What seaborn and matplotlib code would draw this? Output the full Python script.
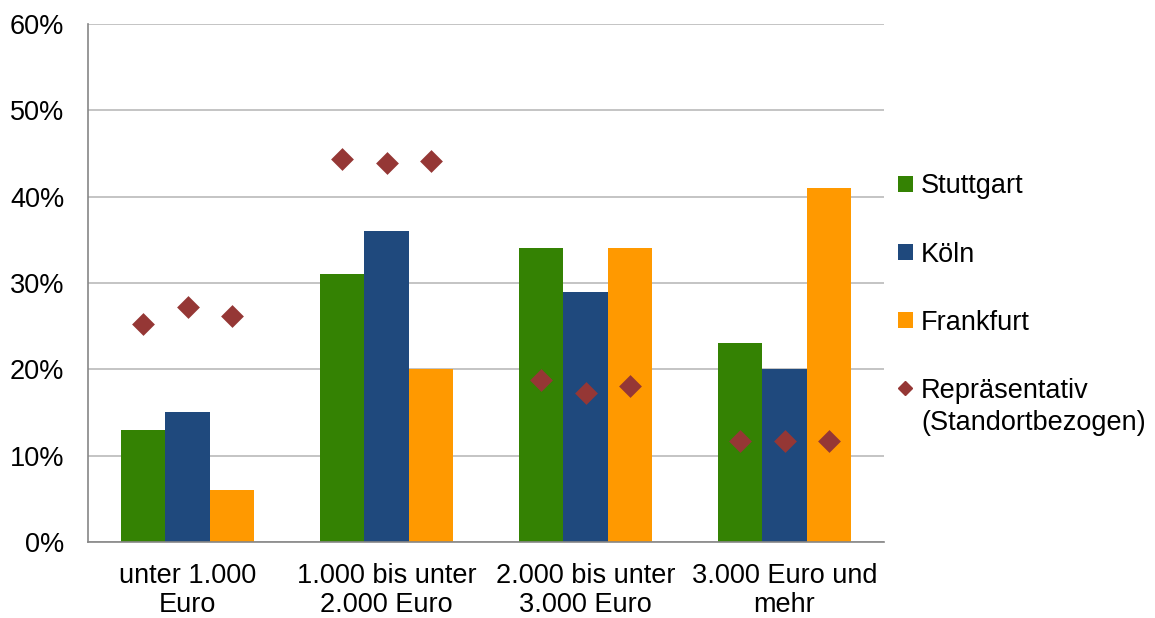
import numpy as np
import pandas as pd
import matplotlib
matplotlib.use("Agg")
import matplotlib.pyplot as plt
import seaborn as sns
from matplotlib.patches import Patch
from matplotlib.lines import Line2D
from matplotlib.legend_handler import HandlerLine2D
from matplotlib.ticker import FixedLocator, PercentFormatter

# data (percent)
categories = ["unter 1.000\nEuro", "1.000 bis unter\n2.000 Euro",
              "2.000 bis unter\n3.000 Euro", "3.000 Euro und\nmehr"]
cities = ["Stuttgart", "Köln", "Frankfurt"]
stuttgart = [13, 31, 34, 23]
koeln = [15, 36, 29, 20]
frankfurt = [6, 20, 34, 41]
# representative values, one per city and income class
rep_stuttgart = [25.2, 44.4, 18.8, 11.7]
rep_koeln = [27.2, 43.9, 17.3, 11.7]
rep_frankfurt = [26.2, 44.1, 18.1, 11.7]
rep_label = "Repräsentativ\n(Standortbezogen)"

colors = ["#348203", "#1F497D", "#FF9900"]
rep_color = "#953735"


class TopLineHandler(HandlerLine2D):
    # put the marker on the first line of a two-line label
    def create_artists(self, legend, orig_handle, xdescent, ydescent,
                       width, height, fontsize, trans):
        arts = super().create_artists(legend, orig_handle, xdescent, ydescent,
                                      width, height, fontsize, trans)
        for a in arts:
            a.set_ydata([y + 0.75 * fontsize for y in a.get_ydata()])
        return arts


sns.set_style("white")
plt.rcParams["font.family"] = ["Liberation Sans", "DejaVu Sans"]
plt.rcParams["text.color"] = "black"
plt.rcParams["xtick.color"] = "black"
plt.rcParams["ytick.color"] = "black"

rows = []
for city, vals, reps in zip(cities, [stuttgart, koeln, frankfurt],
                            [rep_stuttgart, rep_koeln, rep_frankfurt]):
    for cat, v, r in zip(categories, vals, reps):
        rows.append({"cat": cat, "city": city, "value": v, "rep": r})
df = pd.DataFrame(rows)

fig = plt.figure(figsize=(11.55, 6.18), dpi=100)
ax = fig.add_axes([0.0762, 0.123, 0.6892, 0.8382])

sns.barplot(data=df, x="cat", y="value", hue="city", order=categories,
            hue_order=cities, palette=colors, saturation=1, width=0.665,
            linewidth=0, legend=False, ax=ax)

# diamonds placed on the bar centres
bars = ax.patches
xs = [b.get_x() + b.get_width() / 2 for b in bars]
order_keys = [(city, cat) for city in cities for cat in categories]
rep_lookup = df.set_index(["city", "cat"])["rep"]
ys = [rep_lookup[k] for k in order_keys]
ax.scatter(xs, ys, marker="D", s=135, color=rep_color, zorder=4, linewidths=0)

ax.set_xlim(-0.5, len(categories) - 0.5)
ax.set_ylim(0, 60)
ax.yaxis.set_major_locator(FixedLocator(np.arange(0, 61, 10)))
ax.yaxis.set_major_formatter(PercentFormatter(decimals=0))
ax.grid(axis="y", color="#bfbfbf", linewidth=1.3)
ax.set_axisbelow(True)

# x ticks at category boundaries, labels at centres
ax.xaxis.set_major_locator(FixedLocator(np.arange(-0.5, len(categories), 1.0)))
ax.xaxis.set_minor_locator(FixedLocator(np.arange(len(categories))))
ax.set_xticklabels([], minor=False)
ax.set_xticklabels(categories, minor=True)
for lab in ax.get_xticklabels(minor=True):
    lab.set_linespacing(1.15)
ax.tick_params(axis="x", which="major", length=6, width=1.2, color="#868686", direction="out")
ax.tick_params(axis="x", which="minor", length=0, pad=15, labelsize=19.5)
ax.tick_params(axis="y", length=5, width=1.2, color="#868686", direction="out",
               pad=12, labelsize=19.5)
ax.set_xlabel("")
ax.set_ylabel("")

for side in ["top", "right"]:
    ax.spines[side].set_visible(False)
for side in ["left", "bottom"]:
    ax.spines[side].set_color("#868686")
    ax.spines[side].set_linewidth(1.2)

handles = [Patch(facecolor=c, edgecolor="none") for c in colors]
rep_handle = Line2D([], [], marker="D", color=rep_color, linestyle="none", markersize=7)
handles.append(rep_handle)
leg = fig.legend(handles, cities + [rep_label], loc="upper left",
                 bbox_to_anchor=(0.768, 0.737), frameon=False, fontsize=19.5,
                 handlelength=0.55, handleheight=0.55, handletextpad=0.3,
                 labelspacing=1.56, borderaxespad=0,
                 handler_map={rep_handle: TopLineHandler()})
for t in leg.get_texts():
    t.set_linespacing(1.3)

fig.savefig("out.png", dpi=100)
